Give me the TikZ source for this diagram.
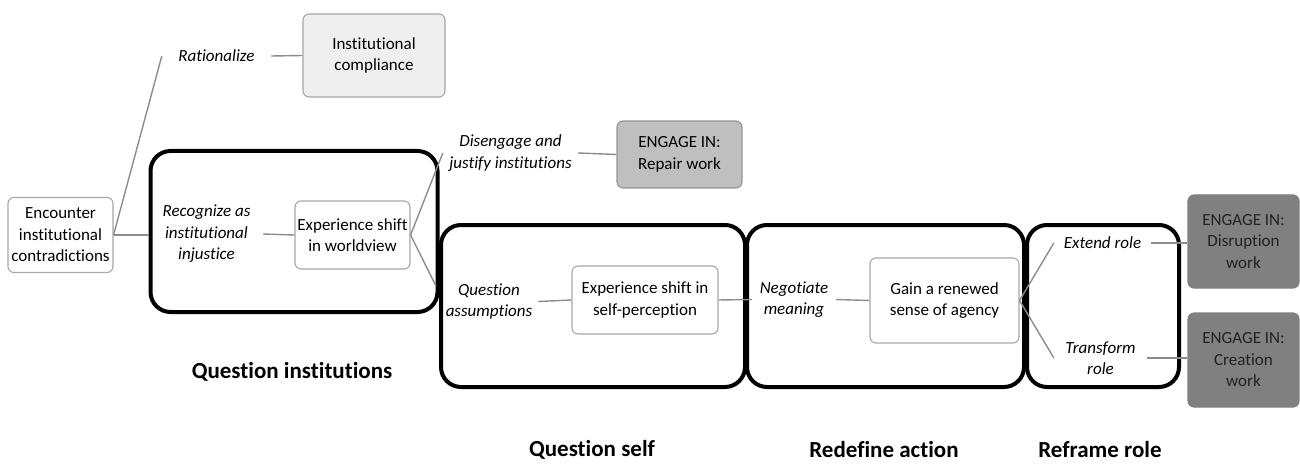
\documentclass[tikz,border=0pt]{standalone}
\usepackage{fontspec}
\setmainfont{Carlito}[Ligatures=NoCommon]
\definecolor{linkgray}{HTML}{8C8C8C}
\definecolor{boxgray}{HTML}{A6A6A6}
\definecolor{paleFill}{HTML}{EFEFEF}
\definecolor{midFill}{HTML}{BFBFBF}
\definecolor{darkFill}{HTML}{808080}
\definecolor{inkdark}{HTML}{222222}
\begin{document}
\begin{tikzpicture}[x=1pt,y=-1pt,
  every node/.style={font=\fontsize{17}{21.5}\selectfont, align=center, inner sep=0pt},
  box/.style={draw=boxgray, line width=1.1pt, rounded corners=6pt, fill=white},
  palebox/.style={box, fill=paleFill},
  midbox/.style={box, fill=midFill, draw=boxgray!90!black},
  darkbox/.style={box, fill=darkFill, draw=darkFill, text=inkdark},
  verb/.style={font=\fontsize{17}{21.5}\selectfont\itshape},
  phase/.style={draw=black, line width=4pt, rounded corners=20pt},
  phaselabel/.style={font=\fontsize{23}{26}\selectfont\bfseries},
  link/.style={draw=linkgray, line width=1.4pt}
]
\useasboundingbox (0,0) rectangle (1300,465);

% phase frames
\node[phase, minimum width=287, minimum height=161] (qi) at (294,231.5) {};
\node[phase, minimum width=304, minimum height=162] (qs) at (593,306) {};
\node[phase, minimum width=277, minimum height=162] (ra) at (885.5,306) {};
\node[phase, minimum width=152, minimum height=162] (rr) at (1103,306) {};

% boxes
\node[box, minimum width=105, minimum height=75] (enc) at (60.5,235) {Encounter\\institutional\\contradictions};
\node[palebox, minimum width=142, minimum height=83] (comp) at (374,55.5) {Institutional\\compliance};
\node[box, minimum width=115, minimum height=68] (exp1) at (352.5,235) {Experience shift\\in worldview};
\node[midbox, minimum width=125, minimum height=67] (rep) at (679.5,154.5) {ENGAGE IN:\\Repair work};
\node[box, minimum width=146, minimum height=68] (exp2) at (645,300) {Experience shift in\\self-perception};
\node[box, minimum width=149, minimum height=85] (gain) at (944.5,300.5) {Gain a renewed\\sense of agency};
\node[darkbox, minimum width=111, minimum height=93] (dsr) at (1243.5,241.5) {ENGAGE IN:\\Disruption\\work};
\node[darkbox, minimum width=111, minimum height=94] (cre) at (1243.5,360) {ENGAGE IN:\\Creation\\work};

% italic action labels
\node[verb, minimum width=109] (rat) at (216.5,56) {Rationalize};
\node[verb, minimum width=113] (rec) at (206.5,234) {Recognize as\\institutional\\injustice};
\node[verb, minimum width=135] (dis) at (510.5,153) {Disengage and\\justify institutions};
\node[verb, minimum width=98] (qa) at (489,301.5) {Question\\assumptions};
\node[verb, minimum width=84] (neg) at (794,299.5) {Negotiate\\meaning};
\node[verb, minimum width=97] (ext) at (1102.5,243) {Extend role};
\node[verb, minimum width=93] (tra) at (1100.5,358) {Transform\\role};
\coordinate (qaend) at (436,286);

% connectors
\draw[link] (enc.east) -- (rat.west);
\draw[link] (rat.east) -- (comp.west);
\draw[link] (enc.east) -- (enc.east -| qi.west);
\draw[link] (rec.east) -- (exp1.west);
\draw[link] (exp1.east) -- (dis.west);
\draw[link] (exp1.east) -- (qaend);
\draw[link] (dis.east) -- (rep.west);
\draw[link] (qa.east) -- (exp2.west);
\draw[link] (exp2.east) -- (neg.west);
\draw[link] (neg.east) -- (gain.west);
\draw[link] (gain.east) -- (ext.west);
\draw[link] (gain.east) -- (tra.west);
\draw[link] (ext.east) -- (ext.east -| dsr.west);
\draw[link] (tra.east) -- (tra.east -| cre.west);

% phase titles
\node[phaselabel] (tqi) at (292,372) {Question institutions};
\node[phaselabel] (tqs) at (592,450) {Question self};
\node[phaselabel] (tra2) at (884,450) {Redefine action};
\node[phaselabel] (trr) at (1100,450) {Reframe role};
\end{tikzpicture}
\end{document}
